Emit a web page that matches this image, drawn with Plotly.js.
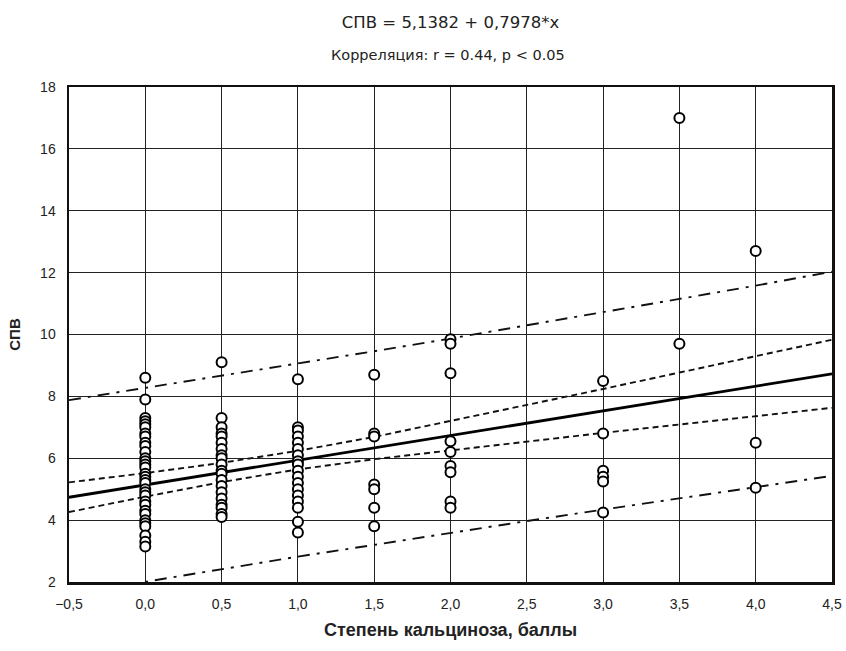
<!DOCTYPE html>
<html>
<head>
<meta charset="utf-8">
<script src="https://cdn.plot.ly/plotly-3.0.1.min.js"></script>
<style>html,body{margin:0;padding:0;background:#fff;}#chart{width:846px;height:651px;}</style>
</head>
<body>
<div id="chart"></div>
<script>
// Observed points (СПВ) per calcinosis grade
const grade00 = [8.6, 7.9, 7.3, 7.2, 7.1, 7.0, 6.8, 6.7, 6.5, 6.4, 6.2, 6.0, 5.9, 5.8, 5.7, 5.5, 5.4, 5.3, 5.2, 5.0, 4.9, 4.8, 4.6, 4.5, 4.3, 4.2, 4.0, 3.9, 3.8, 3.5, 3.3, 3.15];
const grade05 = [9.1, 7.3, 7.0, 6.8, 6.7, 6.5, 6.3, 6.1, 6.0, 5.8, 5.6, 5.5, 5.3, 5.1, 4.9, 4.7, 4.5, 4.4, 4.2, 4.1];
const grade10 = [8.55, 7.0, 6.9, 6.7, 6.5, 6.3, 6.1, 5.9, 5.8, 5.6, 5.4, 5.2, 5.0, 4.8, 4.6, 4.4, 3.95, 3.6];
const grade15 = [8.7, 6.8, 6.7, 5.15, 5.0, 4.4, 3.8];
const grade20 = [9.85, 9.7, 8.75, 6.55, 6.2, 5.75, 5.55, 4.6, 4.4];
const grade30 = [8.5, 6.8, 5.6, 5.4, 5.25, 4.25];
const grade35 = [17.0, 9.7];
const grade40 = [12.7, 6.5, 5.05];
const gradeLevels = [0.0, 0.5, 1.0, 1.5, 2.0, 3.0, 3.5, 4.0];

// Regression coefficients (from the chart title)
const intercept = 5.1382;
const slope = 0.7978;

// Band read positions and values
const bandX = [-0.5, 0, 0.5, 1, 1.5, 2, 2.5, 3, 3.5, 4, 4.5];
const confUpper = [5.22, 5.52, 5.85, 6.24, 6.69, 7.20, 7.72, 8.24, 8.77, 9.30, 9.83];
const confLower = [4.26, 4.76, 5.23, 5.64, 5.97, 6.26, 6.54, 6.82, 7.09, 7.36, 7.63];
const predUpper = [7.88, 8.27, 8.66, 9.06, 9.46, 9.87, 10.29, 10.72, 11.15, 11.58, 12.03];
const predLower = [1.60, 2.01, 2.42, 2.82, 3.20, 3.59, 3.97, 4.34, 4.71, 5.08, 5.43];

// Tick labels
const xTickVals = [-0.5, 0, 0.5, 1, 1.5, 2, 2.5, 3, 3.5, 4, 4.5];
const xTickText = ["\u22120,5", "0,0", "0,5", "1,0", "1,5", "2,0", "2,5", "3,0", "3,5", "4,0", "4,5"];
const yTickVals = [2, 4, 6, 8, 10, 12, 14, 16, 18];
const yTickText = ["2", "4", "6", "8", "10", "12", "14", "16", "18"];

const groups = [grade00, grade05, grade10, grade15, grade20, grade30, grade35, grade40];
const px = [], py = [];
groups.forEach((g, i) => g.forEach(v => { px.push(gradeLevels[i]); py.push(v); }));

const regY = bandX.map(x => intercept + slope * x);

const FONT = "Liberation Sans, Arial, sans-serif";
const WIDE = "DejaVu Sans, Liberation Sans, sans-serif";

const traces = [
  {x: bandX, y: predUpper, mode: "lines", line: {color: "#111", width: 1.9, dash: "12px,7px,3px,7px"}, hoverinfo: "skip"},
  {x: bandX, y: predLower, mode: "lines", line: {color: "#111", width: 1.9, dash: "12px,7px,3px,7px"}, hoverinfo: "skip"},
  {x: bandX, y: confUpper, mode: "lines", line: {color: "#111", width: 1.9, dash: "6px,4px"}, hoverinfo: "skip"},
  {x: bandX, y: confLower, mode: "lines", line: {color: "#111", width: 1.9, dash: "6px,4px"}, hoverinfo: "skip"},
  {x: bandX, y: regY, mode: "lines", line: {color: "#000", width: 2.8}, hoverinfo: "skip"},
  {x: px, y: py, mode: "markers", marker: {symbol: "circle", size: 10, color: "#fff", line: {color: "#000", width: 2}}}
];

const layout = {
  width: 846, height: 651,
  margin: {l: 69, r: 14, t: 87, b: 69},
  paper_bgcolor: "#fff", plot_bgcolor: "#fff",
  showlegend: false,
  font: {family: FONT, color: "#222"},
  title: {text: "СПВ = 5,1382 + 0,7978*x", font: {family: WIDE, size: 16.5, color: "#222"},
          x: 0.5, xanchor: "center", y: 1 - 22/651, yanchor: "middle", xref: "paper"},
  annotations: [{
    text: "Корреляция: r = 0.44, p < 0.05", xref: "paper", yref: "paper",
    x: 0.497, y: 1 + 32/495, xanchor: "center", yanchor: "middle", showarrow: false,
    font: {family: WIDE, size: 14.5, color: "#222"}
  }],
  xaxis: {
    range: [-0.5, 4.5], tickvals: xTickVals, ticktext: xTickText,
    showgrid: true, gridcolor: "#222", gridwidth: 1, zeroline: false,
    showline: true, linecolor: "#111", linewidth: 2.5, mirror: true,
    ticks: "", ticklabelstandoff: 8,
    tickfont: {family: FONT, size: 14, color: "#222"},
    title: {text: "<b>Степень кальциноза, баллы</b>", font: {family: FONT, size: 18, color: "#222"}, standoff: 12}
  },
  yaxis: {
    range: [2, 18], tickvals: yTickVals, ticktext: yTickText,
    showgrid: true, gridcolor: "#222", gridwidth: 1, zeroline: false,
    showline: true, linecolor: "#111", linewidth: 2.5, mirror: true,
    ticks: "", ticklabelstandoff: 8,
    tickfont: {family: FONT, size: 14, color: "#222"},
    title: {text: "<b>СПВ</b>", font: {family: FONT, size: 15, color: "#222"}, standoff: 16}
  }
};

Plotly.newPlot("chart", traces, layout, {staticPlot: true, displayModeBar: false});
</script>
</body>
</html>
